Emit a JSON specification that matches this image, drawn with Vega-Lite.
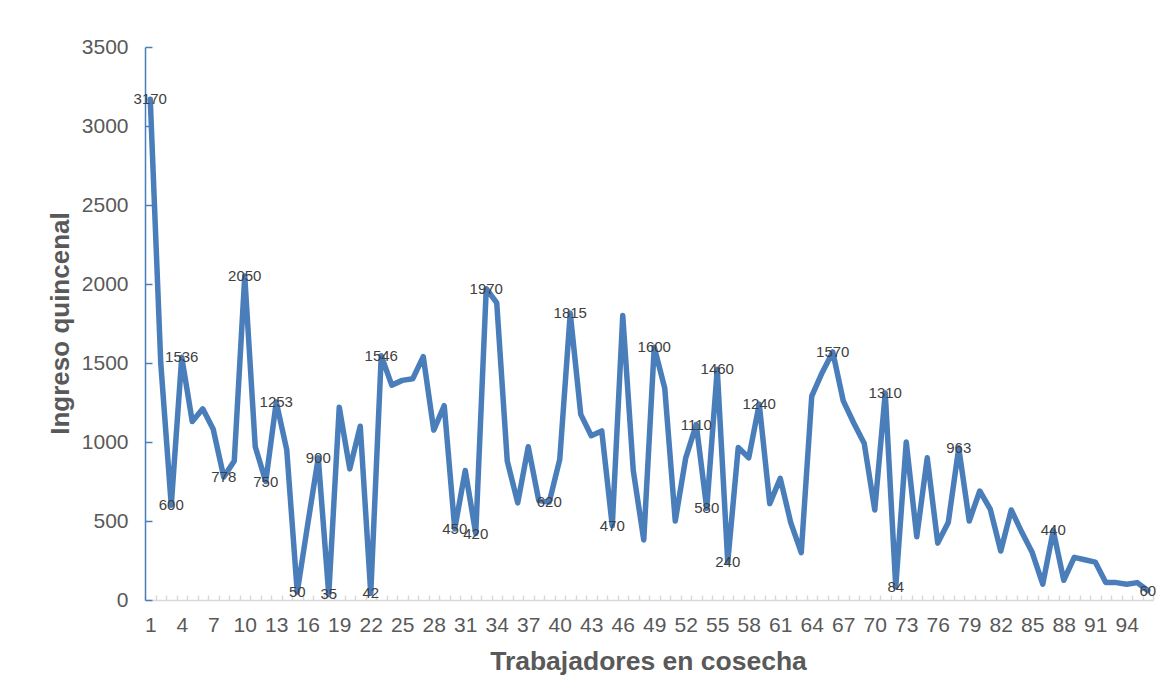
{
  "$schema": "https://vega.github.io/schema/vega-lite/v6.json",
  "width": 1008,
  "height": 553,
  "autosize": {"type": "none"},
  "padding": {"left": 145, "top": 47, "right": 16, "bottom": 86},
  "background": "white",
  "config": {"view": {"stroke": null}, "font": "Liberation Sans"},
  "data": {
    "values": [
      {"trabajador": 1, "ingreso": 3170}, {"trabajador": 2, "ingreso": 1500}, {"trabajador": 3, "ingreso": 600},
      {"trabajador": 4, "ingreso": 1536}, {"trabajador": 5, "ingreso": 1130}, {"trabajador": 6, "ingreso": 1210},
      {"trabajador": 7, "ingreso": 1080}, {"trabajador": 8, "ingreso": 778}, {"trabajador": 9, "ingreso": 880},
      {"trabajador": 10, "ingreso": 2050}, {"trabajador": 11, "ingreso": 970}, {"trabajador": 12, "ingreso": 750},
      {"trabajador": 13, "ingreso": 1253}, {"trabajador": 14, "ingreso": 950}, {"trabajador": 15, "ingreso": 50},
      {"trabajador": 16, "ingreso": 480}, {"trabajador": 17, "ingreso": 900}, {"trabajador": 18, "ingreso": 35},
      {"trabajador": 19, "ingreso": 1220}, {"trabajador": 20, "ingreso": 830}, {"trabajador": 21, "ingreso": 1100},
      {"trabajador": 22, "ingreso": 42}, {"trabajador": 23, "ingreso": 1546}, {"trabajador": 24, "ingreso": 1360},
      {"trabajador": 25, "ingreso": 1390}, {"trabajador": 26, "ingreso": 1400}, {"trabajador": 27, "ingreso": 1540},
      {"trabajador": 28, "ingreso": 1075}, {"trabajador": 29, "ingreso": 1230}, {"trabajador": 30, "ingreso": 450},
      {"trabajador": 31, "ingreso": 820}, {"trabajador": 32, "ingreso": 420}, {"trabajador": 33, "ingreso": 1970},
      {"trabajador": 34, "ingreso": 1880}, {"trabajador": 35, "ingreso": 880}, {"trabajador": 36, "ingreso": 615},
      {"trabajador": 37, "ingreso": 970}, {"trabajador": 38, "ingreso": 630}, {"trabajador": 39, "ingreso": 620},
      {"trabajador": 40, "ingreso": 890}, {"trabajador": 41, "ingreso": 1815}, {"trabajador": 42, "ingreso": 1175},
      {"trabajador": 43, "ingreso": 1040}, {"trabajador": 44, "ingreso": 1070}, {"trabajador": 45, "ingreso": 470},
      {"trabajador": 46, "ingreso": 1800}, {"trabajador": 47, "ingreso": 820}, {"trabajador": 48, "ingreso": 380},
      {"trabajador": 49, "ingreso": 1600}, {"trabajador": 50, "ingreso": 1340}, {"trabajador": 51, "ingreso": 500},
      {"trabajador": 52, "ingreso": 900}, {"trabajador": 53, "ingreso": 1110}, {"trabajador": 54, "ingreso": 580},
      {"trabajador": 55, "ingreso": 1460}, {"trabajador": 56, "ingreso": 240}, {"trabajador": 57, "ingreso": 965},
      {"trabajador": 58, "ingreso": 900}, {"trabajador": 59, "ingreso": 1240}, {"trabajador": 60, "ingreso": 610},
      {"trabajador": 61, "ingreso": 770}, {"trabajador": 62, "ingreso": 490}, {"trabajador": 63, "ingreso": 300},
      {"trabajador": 64, "ingreso": 1290}, {"trabajador": 65, "ingreso": 1440}, {"trabajador": 66, "ingreso": 1570},
      {"trabajador": 67, "ingreso": 1260}, {"trabajador": 68, "ingreso": 1120}, {"trabajador": 69, "ingreso": 990},
      {"trabajador": 70, "ingreso": 570}, {"trabajador": 71, "ingreso": 1310}, {"trabajador": 72, "ingreso": 84},
      {"trabajador": 73, "ingreso": 1000}, {"trabajador": 74, "ingreso": 400}, {"trabajador": 75, "ingreso": 900},
      {"trabajador": 76, "ingreso": 360}, {"trabajador": 77, "ingreso": 490}, {"trabajador": 78, "ingreso": 963},
      {"trabajador": 79, "ingreso": 500}, {"trabajador": 80, "ingreso": 690}, {"trabajador": 81, "ingreso": 575},
      {"trabajador": 82, "ingreso": 310}, {"trabajador": 83, "ingreso": 570}, {"trabajador": 84, "ingreso": 430},
      {"trabajador": 85, "ingreso": 300}, {"trabajador": 86, "ingreso": 100}, {"trabajador": 87, "ingreso": 440},
      {"trabajador": 88, "ingreso": 125}, {"trabajador": 89, "ingreso": 270}, {"trabajador": 90, "ingreso": 255},
      {"trabajador": 91, "ingreso": 240}, {"trabajador": 92, "ingreso": 110}, {"trabajador": 93, "ingreso": 110},
      {"trabajador": 94, "ingreso": 100}, {"trabajador": 95, "ingreso": 110}, {"trabajador": 96, "ingreso": 60}
    ]
  },
  "encoding": {
    "x": {
      "field": "trabajador",
      "type": "ordinal",
      "bandPosition": 0.5,
      "scale": {"type": "band", "paddingInner": 0, "paddingOuter": 0},
      "axis": {
        "title": "Trabajadores en cosecha",
        "labelAngle": 0,
        "labelExpr": "(datum.value - 1) % 3 == 0 ? datum.label : ''",
        "labelOverlap": false,
        "labelFontSize": 21,
        "labelColor": "#595959",
        "labelPadding": 19,
        "tickBand": "extent",
        "tickSize": -5,
        "tickColor": "#d9d9d9",
        "tickWidth": 1.5,
        "domainColor": "#d9d9d9",
        "domainWidth": 1.5,
        "grid": false,
        "titleFontSize": 26.5,
        "titleFontWeight": "bold",
        "titleColor": "#595959",
        "titleX": 503,
        "titleY": 61,
        "titleBaseline": "middle"
      }
    },
    "y": {
      "field": "ingreso",
      "type": "quantitative",
      "scale": {"domain": [0, 3500], "nice": false},
      "axis": {
        "title": "Ingreso quincenal",
        "values": [0, 500, 1000, 1500, 2000, 2500, 3000, 3500],
        "format": "d",
        "grid": false,
        "labelFontSize": 21,
        "labelColor": "#595959",
        "labelPadding": 24,
        "tickSize": -7,
        "tickColor": "#4a7ebb",
        "tickWidth": 1.5,
        "domainColor": "#4a7ebb",
        "domainWidth": 1.5,
        "titleFontSize": 26,
        "titleFontWeight": "bold",
        "titleColor": "#595959",
        "titleX": -85,
        "titleY": 276,
        "titleAngle": -90,
        "titleAlign": "center",
        "titleBaseline": "middle"
      }
    }
  },
  "layer": [
    {
      "mark": {"type": "line", "color": "#4a7ebb", "strokeWidth": 5.5, "strokeJoin": "round", "strokeCap": "round"}
    },
    {
      "transform": [
        {"filter": "indexof([1, 3, 4, 8, 10, 12, 13, 15, 17, 18, 22, 23, 30, 32, 33, 39, 41, 45, 49, 53, 54, 55, 56, 59, 66, 71, 72, 78, 87, 96], datum.trabajador) >= 0"}
      ],
      "mark": {"type": "text", "fontSize": 15, "color": "#404040", "align": "center", "baseline": "middle"},
      "encoding": {"text": {"field": "ingreso", "type": "quantitative", "format": "d"}}
    }
  ]
}
